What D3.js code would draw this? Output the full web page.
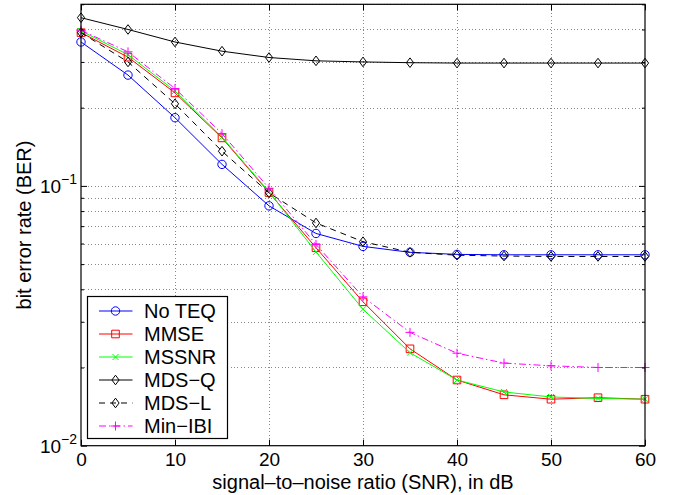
<!DOCTYPE html>
<html><head><meta charset="utf-8">
<script src="https://cdn.jsdelivr.net/npm/d3@7"></script>
<style>
html,body{margin:0;padding:0;background:#fff;}
svg{display:block;}
text{font-family:"Liberation Sans",Arial,Helvetica,sans-serif;fill:#000;}
</style></head>
<body><svg id="chart" width="678" height="495"></svg>
<script>
// ---- data ----
const snr = [0,5,10,15,20,25,30,35,40,45,50,55,60];
const noTEQ  = [0.358,0.267,0.183,0.121,0.0838,0.0656,0.0585,0.0555,0.0545,0.0543,0.0543,0.0543,0.0543];
const mmse   = [0.389,0.313,0.228,0.153,0.0943,0.0578,0.0358,0.0236,0.0179,0.0157,0.0151,0.0153,0.0151];
const mssnr  = [0.395,0.320,0.232,0.154,0.0950,0.0557,0.0335,0.0228,0.0179,0.0161,0.0154,0.0152,0.0151];
const mdsQ   = [0.444,0.400,0.358,0.330,0.312,0.303,0.300,0.298,0.297,0.297,0.297,0.297,0.297];
const mdsL   = [0.389,0.300,0.207,0.136,0.094,0.072,0.061,0.0555,0.0541,0.0537,0.0535,0.0535,0.0535];
const minIBI = [0.397,0.328,0.237,0.159,0.098,0.0595,0.0374,0.0273,0.0227,0.0208,0.0203,0.0200,0.0200];
const seriesNames = ["No TEQ","MMSE","MSSNR","MDS\u2212Q","MDS\u2212L","Min\u2212IBI"];
const xTicks = [0,10,20,30,40,50,60];
const yMajorTicks = [0.01,0.1];
const yTickLabels = [["10","\u22122"],["10","\u22121"]];
const xLabel = "signal\u2013to\u2013noise ratio (SNR), in dB";
const yLabel = "bit error rate (BER)";

// ---- layout ----
const L=81, R=645, T=4.3, B=445.7;
const svg = d3.select("#chart");
const x = d3.scaleLinear().domain([0,60]).range([L,R]);
const y = d3.scaleLog().domain([0.01,0.5]).range([B,T]);

const yMinor = [];
[0.01,0.1].forEach(d=>{ for(let k=2;k<=9;k++){ const v=d*k; if(v<0.5+1e-9) yMinor.push(+v.toFixed(4)); } });
const yAllGrid = yMinor.concat([0.1]);

// grid
const grid = svg.append("g").attr("stroke-width",1).attr("stroke-dasharray","1,2.4").attr("fill","none");
grid.append("g").attr("transform",`translate(0,${B})`)
  .call(d3.axisBottom(x).tickValues([10,20,30,40,50]).tickSize(-(B-T)).tickFormat(""))
  .call(g=>g.select(".domain").remove())
  .selectAll("line").attr("stroke","#888").attr("shape-rendering","crispEdges");
grid.append("g").attr("transform",`translate(${L},0)`)
  .call(d3.axisLeft(y).tickValues(yAllGrid).tickSize(-(R-L)).tickFormat(""))
  .call(g=>g.select(".domain").remove())
  .selectAll("line").attr("stroke","#888").attr("shape-rendering","crispEdges");

// series
const symDiamond = {draw(c,s){ c.moveTo(0,-4.8); c.lineTo(3.6,0); c.lineTo(0,4.8); c.lineTo(-3.6,0); c.closePath(); }};
const symSquare = {draw(c,s){ c.rect(-3.8,-3.8,7.6,7.6); }};
const symCircle = {draw(c,s){ c.moveTo(4.2,0); c.arc(0,0,4.2,0,2*Math.PI); }};
const symX = {draw(c,s){ c.moveTo(-3,-3); c.lineTo(3,3); c.moveTo(-3,3); c.lineTo(3,-3); }};
const symPlus = {draw(c,s){ c.moveTo(-4.5,0); c.lineTo(4.5,0); c.moveTo(0,-4.5); c.lineTo(0,4.5); }};

const series = [
  {name:seriesNames[0], vals:noTEQ, color:"#0000ff", dash:null, sym:symCircle},
  {name:seriesNames[1], vals:mmse, color:"#ff0000", dash:null, sym:symSquare},
  {name:seriesNames[2], vals:mssnr, color:"#00ff00", dash:null, sym:symX},
  {name:seriesNames[3], vals:mdsQ, color:"#000000", dash:null, sym:symDiamond},
  {name:seriesNames[4], vals:mdsL, color:"#000000", dash:"6,5", sym:symDiamond},
  {name:seriesNames[5], vals:minIBI, color:"#ff00ff", dash:"7,3,1.5,3", sym:symPlus}
];
const line = d3.line().x(d=>x(d[0])).y(d=>y(d[1]));
const plot = svg.append("g");
series.forEach(s=>{
  const pts = snr.map((v,i)=>[v,s.vals[i]]);
  plot.append("path").attr("d",line(pts)).attr("fill","none").attr("stroke",s.color)
    .attr("stroke-width",1).attr("stroke-dasharray",s.dash);
  plot.selectAll(null).data(pts).enter().append("path")
    .attr("transform",d=>`translate(${x(d[0])},${y(d[1])})`)
    .attr("d",d3.symbol().type(s.sym)()).attr("fill","none").attr("stroke",s.color).attr("stroke-width",1);
});

// axes box and ticks
const ax = svg.append("g");
ax.append("rect").attr("x",L).attr("y",T).attr("width",R-L).attr("height",B-T)
  .attr("fill","none").attr("stroke","#000").attr("stroke-width",1.2);
const xb = ax.append("g").attr("transform",`translate(0,${B})`)
  .call(d3.axisBottom(x).tickValues(xTicks).tickSize(-6).tickPadding(0).tickFormat(d3.format("d")));
xb.select(".domain").remove();
xb.selectAll("line").attr("stroke","#000");
xb.selectAll("text").attr("y",20.5).attr("dy",null).style("font-size","19px").attr("font-family",null);
const xt = ax.append("g").attr("transform",`translate(0,${T})`)
  .call(d3.axisTop(x).tickValues(xTicks).tickSize(-6).tickFormat(""));
xt.select(".domain").remove(); xt.selectAll("line").attr("stroke","#000");
[[L,d3.axisLeft],[R,d3.axisRight]].forEach(([px,axf])=>{
  const gM = ax.append("g").attr("transform",`translate(${px},0)`)
    .call(axf(y).tickValues(yMajorTicks).tickSize(-6).tickFormat(""));
  gM.select(".domain").remove(); gM.selectAll("line").attr("stroke","#000");
  const gm = ax.append("g").attr("transform",`translate(${px},0)`)
    .call(axf(y).tickValues(yMinor).tickSize(-3).tickFormat(""));
  gm.select(".domain").remove(); gm.selectAll("line").attr("stroke","#000");
});
const yl = ax.append("g");
yMajorTicks.forEach((v,i)=>{
  const t = yl.append("text").attr("x",77).attr("y",y(v)+7.5).attr("text-anchor","end").style("font-size","19px");
  t.append("tspan").text(yTickLabels[i][0]);
  t.append("tspan").attr("dy",-9).style("font-size","14px").text(yTickLabels[i][1]);
});

// axis labels
svg.append("text").attr("x",(L+R)/2).attr("y",489).attr("text-anchor","middle").style("font-size","20px").text(xLabel);
svg.append("text").attr("transform",`translate(31,${(T+B)/2}) rotate(-90)`).attr("text-anchor","middle").style("font-size","20px").text(yLabel);

// legend
const lg = svg.append("g");
lg.append("rect").attr("x",87.5).attr("y",296.5).attr("width",140).attr("height",142)
  .attr("fill","#fff").attr("stroke","#000").attr("stroke-width",1.2);
series.forEach((s,i)=>{
  const cy = 311 + i*23;
  lg.append("line").attr("x1",99).attr("x2",132.5).attr("y1",cy).attr("y2",cy)
    .attr("stroke",s.color).attr("stroke-width",1).attr("stroke-dasharray",s.dash);
  lg.append("path").attr("transform",`translate(115.5,${cy})`).attr("d",d3.symbol().type(s.sym)())
    .attr("fill","none").attr("stroke",s.color);
  lg.append("text").attr("x",144).attr("y",cy+7).style("font-size","20px").text(s.name);
});
</script></body></html>
